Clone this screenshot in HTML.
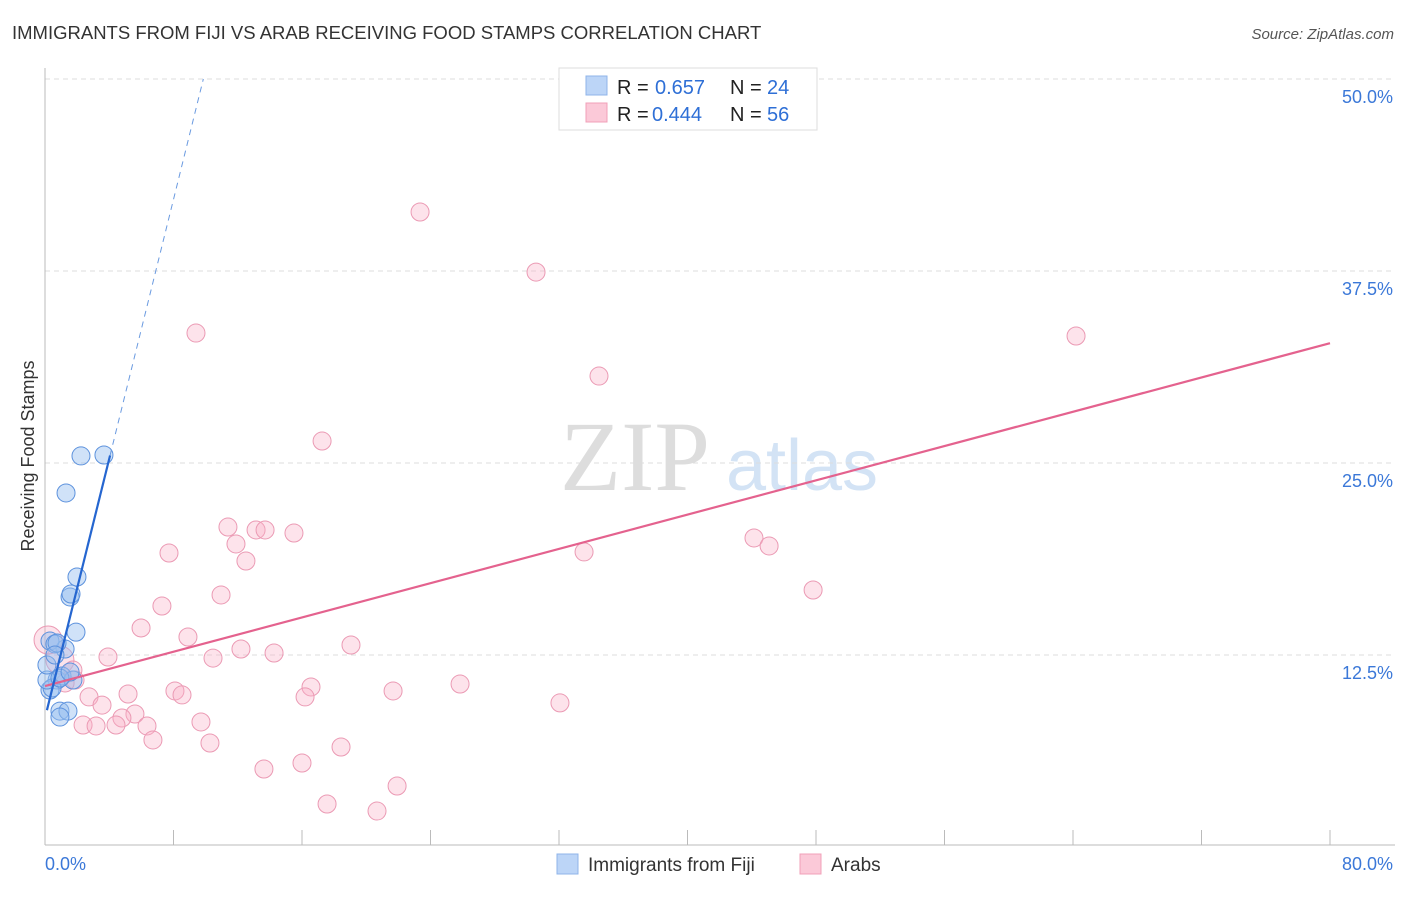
<!DOCTYPE html>
<html><head><meta charset="utf-8"><style>
body{margin:0;background:#fff;font-family:"Liberation Sans",sans-serif;}
</style></head><body>
<svg id="chart" width="1406" height="892" xmlns="http://www.w3.org/2000/svg" font-family="Liberation Sans, sans-serif">
<text x="12" y="39" font-size="18.5" fill="#333">IMMIGRANTS FROM FIJI VS ARAB RECEIVING FOOD STAMPS CORRELATION CHART</text>
<text x="1394" y="39" font-size="15" fill="#555" font-style="italic" text-anchor="end">Source: ZipAtlas.com</text>
<g>
<text x="635" y="490" font-size="100" fill="#ddd" style="font-family:'Liberation Serif',serif" text-anchor="middle">ZIP</text>
<text x="802" y="490" font-size="72" fill="#d3e3f5" text-anchor="middle">atlas</text>
</g>
<g id="grid"></g>
<g id="axes"></g>
<g id="marks"></g>
<text transform="translate(34,456) rotate(-90)" font-size="18" fill="#333" text-anchor="middle">Receiving Food Stamps</text>
<g>
<rect x="559" y="68" width="258" height="62" fill="#fff" stroke="#ddd"/>
<rect x="586" y="76" width="21" height="19" fill="#bcd5f7" stroke="#8fb4ea"/>
<rect x="586" y="103" width="21" height="19" fill="#fbc9d8" stroke="#f0a0b8"/>
<text x="617" y="94" font-size="20" fill="#222">R =</text>
<text x="655" y="94" font-size="20" fill="#2e6fd6">0.657</text>
<text x="730" y="94" font-size="20" fill="#222">N =</text>
<text x="767" y="94" font-size="20" fill="#2e6fd6">24</text>
<text x="617" y="121" font-size="20" fill="#222">R =</text>
<text x="652" y="121" font-size="20" fill="#2e6fd6">0.444</text>
<text x="730" y="121" font-size="20" fill="#222">N =</text>
<text x="767" y="121" font-size="20" fill="#2e6fd6">56</text>
</g>
<g>
<rect x="557" y="854" width="21" height="20" fill="#bcd5f7" stroke="#8fb4ea"/>
<text x="588" y="871" font-size="19" fill="#333">Immigrants from Fiji</text>
<rect x="800" y="854" width="21" height="20" fill="#fbc9d8" stroke="#f0a0b8"/>
<text x="831" y="871" font-size="19" fill="#333">Arabs</text>
</g>
</svg>
<script>
const fijiX=[2.24,3.67,1.31,1.99,1.56,1.62,1.93,1.25,0.31,0.62,0.75,1.06,1.74,0.31,0.93,1.43,0.93,0.44,0.75,0.12,0.12,0.93,0.62,1.56];
const fijiY=[25.46,25.52,23.05,17.58,16.28,16.47,13.99,12.89,13.41,13.22,10.87,11.13,10.87,10.22,8.85,8.85,8.46,10.35,13.28,10.87,11.85,11.0,12.5,11.39];
const arabX=[23.35,30.57,9.40,64.19,34.49,17.25,11.39,13.14,13.70,15.50,11.89,44.14,45.08,7.72,33.56,12.51,47.82,10.96,7.28,5.98,8.90,19.05,12.20,14.26,3.92,10.46,0.93,1.74,1.87,25.84,16.56,21.67,1.25,8.09,8.53,5.17,2.74,16.19,32.06,3.55,5.60,4.79,9.71,2.37,3.18,4.42,6.35,6.72,10.27,18.43,13.63,16.00,21.92,17.56,20.67,0.19];
const arabY=[41.34,37.43,33.46,33.27,30.66,26.43,20.83,20.64,20.64,20.44,19.73,20.12,19.60,19.14,19.21,18.62,16.73,16.41,15.69,14.26,13.67,13.15,12.89,12.63,12.37,12.30,12.17,11.52,10.87,10.61,10.42,10.16,10.68,10.16,9.90,9.96,9.77,9.77,9.38,9.24,8.66,8.40,8.14,7.94,7.88,7.94,7.88,6.97,6.77,6.51,5.08,5.47,3.97,2.80,2.34,13.48];
const fijiTrend=[8.4,4.22];
const arabTrend=[10.48,0.279];
const yTicks=[12.5,25.0,37.5,50.0];
const xTickVals=[0,8,16,24,32,40,48,56,64,72,80];
const NS="http://www.w3.org/2000/svg";
const sx=v=>45+v*1285/80, sy=v=>847-v*15.36;
function mk(t,a,p){const e=document.createElementNS(NS,t);for(const k in a)e.setAttribute(k,a[k]);p.appendChild(e);return e;}
const grid=document.getElementById('grid'),axes=document.getElementById('axes'),marks=document.getElementById('marks');
yTicks.forEach(v=>{
 const l=mk('line',{x1:45,x2:1395,y1:sy(v),y2:sy(v),stroke:'#ddd','stroke-dasharray':'5,4'},grid);
 
 
 const t=mk('text',{x:1393,y:sy(v)+24,'font-size':18,fill:'#3b78d8','text-anchor':'end'},axes);
 t.textContent=v.toFixed(1)+'%';
 
 
});
mk('line',{x1:45,x2:45,y1:68,y2:845,stroke:'#bbb'},axes);
mk('line',{x1:45,x2:1395,y1:845,y2:845,stroke:'#bbb'},axes);
xTickVals.forEach(v=>{const l=mk('line',{x1:sx(v),x2:sx(v),y1:830,y2:845,stroke:'#bbb'},axes);
 
 });
const t0=mk('text',{x:45,y:870,'font-size':18,fill:'#3b78d8'},axes);t0.textContent='0.0%';


const t1=mk('text',{x:1393,y:870,'font-size':18,fill:'#3b78d8','text-anchor':'end'},axes);t1.textContent='80.0%';


arabX.forEach((x,i)=>{const c=mk('circle',{cx:sx(x),cy:sy(arabY[i]),r:(i==55||i==26)?14:9,fill:'rgba(248,175,198,0.35)',stroke:'#eb9ab4','stroke-width':1},marks);
 
 });
fijiX.forEach((x,i)=>{const c=mk('circle',{cx:sx(x),cy:sy(fijiY[i]),r:9,fill:'rgba(150,190,240,0.45)',stroke:'#5d92dd','stroke-width':1},marks);
 
 });
const ap=mk('line',{x1:sx(0),y1:sy(arabTrend[0]),x2:sx(80),y2:sy(arabTrend[0]+arabTrend[1]*80),stroke:'#e4628e','stroke-width':2.2},marks);


const fx1=0.12,fx2=4.05,fx3=(50-fijiTrend[0])/fijiTrend[1];
const fl=mk('line',{x1:sx(fx1),y1:sy(fijiTrend[0]+fijiTrend[1]*fx1),x2:sx(fx2),y2:sy(fijiTrend[0]+fijiTrend[1]*fx2),stroke:'#2566d0','stroke-width':2.2},marks);


const fd=mk('line',{x1:sx(fx2),y1:sy(fijiTrend[0]+fijiTrend[1]*fx2),x2:sx(fx3),y2:sy(50),stroke:'#6a9ae0','stroke-width':1,'stroke-dasharray':'6,5'},marks);


</script>
</body></html>
